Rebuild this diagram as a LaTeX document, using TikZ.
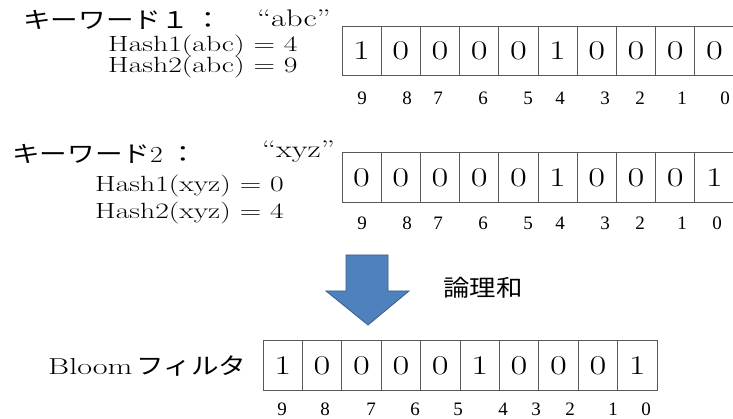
\documentclass[tikz,border=0pt]{standalone}
\usepackage{fontspec}
\usepackage{graphicx}
\newfontfamily\jpfont{Noto Sans CJK JP}
\newfontfamily\idxfont{Liberation Serif}
\definecolor{arrowblue}{RGB}{79,129,189}
\definecolor{arrowedge}{RGB}{56,93,138}
\newcommand{\wide}[1]{\scalebox{1.35}[1]{#1}}
\newcommand{\jpwide}[1]{\scalebox{1.2}[1]{#1}}
\begin{document}
\begin{tikzpicture}[x=1pt,y=-1pt,
  cell/.style={draw=black!65,line width=0.8pt,minimum width=39.2pt,minimum height=49.5pt,inner sep=0pt,outer sep=0pt,font=\fontsize{27}{30}\selectfont},
  idx/.style={inner sep=0pt,font=\idxfont\fontsize{19}{22}\selectfont},
  txt/.style={anchor=west,inner sep=0pt,font=\fontsize{22}{26}\selectfont},
  jp/.style={anchor=west,inner sep=0pt,font=\jpfont\fontsize{23}{26}\selectfont}]
\useasboundingbox (0,0) rectangle (733,419);
\begin{scope}
\node[jp] (kw1) at (23,20) {\jpwide{キーワード１ ：}};
\node[txt,font=\fontsize{24}{28}\selectfont] (s1) at (257,18) {\wide{“abc”}};
\node[txt] (h11) at (108,46) {\wide{Hash1(abc) = 4}};
\node[txt] (h12) at (108,67) {\wide{Hash2(abc) = 9}};
\foreach \v [count=\i from 0] in {1,0,0,0,0,1,0,0,0,0}
  \node[cell] (ka\i) at ({361.6+39.2*\i},51) {\wide{\v}};
\foreach \x/\k in {362/9,407/8,438/7,483/6,528/5,560/4,605/3,640/2,682/1,725/0}
  \node[idx] (ia\k) at (\x,98) {\k};
\end{scope}
\begin{scope}
\node[jp] (kw2) at (12,154) {\jpwide{キーワード{\rmfamily 2} ：}};
\node[txt,font=\fontsize{24}{28}\selectfont] (s2) at (262,152) {\wide{“xyz”}};
\node[txt] (h21) at (95,186) {\wide{Hash1(xyz) = 0}};
\node[txt] (h22) at (95,213) {\wide{Hash2(xyz) = 4}};
\foreach \v [count=\i from 0] in {0,0,0,0,0,1,0,0,0,1}
  \node[cell] (kb\i) at ({361.6+39.2*\i},177.5) {\wide{\v}};
\foreach \x/\k in {362/9,407/8,438/7,483/6,528/5,560/4,605/3,640/2,682/1,717/0}
  \node[idx] (ib\k) at (\x,223) {\k};
\end{scope}
\draw[fill=arrowblue,draw=arrowedge,line width=0.8pt] (346,255) -- (388,255) -- (388,291) -- (409,291)
  -- (368,325) -- (326,291) -- (346,291) -- cycle;
\node[inner sep=0pt,font=\jpfont\fontsize{23}{26}\selectfont] (or) at (483,288) {\scalebox{1.15}[1]{論理和}};
\begin{scope}
\node[txt,font=\fontsize{23}{26}\selectfont] (bf) at (48,366) {\scalebox{1.4}[1]{Bloom}\,{\jpfont\jpwide{フィルタ}}};
\foreach \v [count=\i from 0] in {1,0,0,0,0,1,0,0,0,1}
  \node[cell,minimum width=39.4pt] (bc\i) at ({282.7+39.4*\i},365.5) {\wide{\v}};
\foreach \x/\k in {282/9,325/8,371/7,415/6,458/5,503/4,536/3,570/2,613/1,646/0}
  \node[idx] (ic\k) at (\x,409) {\k};
\end{scope}
\end{tikzpicture}
\end{document}
